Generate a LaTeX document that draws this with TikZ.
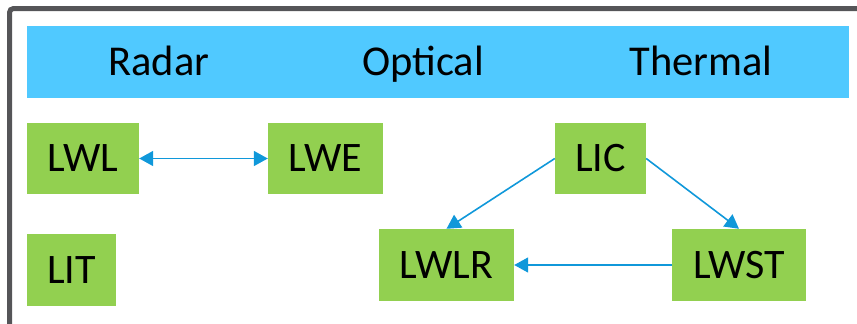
\documentclass[tikz,border=0pt]{standalone}
\usepackage{fontspec}
\setmainfont{Carlito}
\usetikzlibrary{arrows.meta}
\definecolor{framegray}{RGB}{85,85,88}
\definecolor{bandblue}{RGB}{80,201,255}
\definecolor{boxgreen}{RGB}{146,208,80}
\definecolor{linkblue}{RGB}{16,152,218}
\tikzset{
  pbox/.style={fill=boxgreen, draw=none, inner sep=0pt, font=\fontsize{42}{50}\selectfont},
  hdr/.style={anchor=base, inner sep=0pt, font=\fontsize{42.5}{51}\selectfont},
  link/.style={draw=linkblue, line width=1.6pt, -{Triangle[length=14pt,width=15pt]}},
  dlink/.style={draw=linkblue, line width=1.6pt, {Triangle[length=14pt,width=15pt]}-{Triangle[length=14pt,width=15pt]}}
}
\begin{document}
\begin{tikzpicture}[x=1pt,y=-1pt]
\useasboundingbox (0,0) rectangle (857,324);
% outer frame, cut off at right and bottom
\draw[framegray, line width=5pt, rounded corners=4pt] (9.5,340) -- (9.5,8.5) -- (880,8.5);
% header band
\fill[bandblue] (27,26) rectangle (849,98);
\node[hdr] (hradar) at (159,75) {Radar};
\node[hdr] (hopt) at (423,75) {Optical};
\node[hdr] (htherm) at (701,75) {Thermal};
% boxes
\node[pbox, minimum width=112pt, minimum height=71pt] (lwl) at (83,158.5) {LWL};
\node[pbox, minimum width=115pt, minimum height=71pt] (lwe) at (325.5,158.5) {LWE};
\node[pbox, minimum width=91pt, minimum height=71pt] (lic) at (600.5,158.5) {LIC};
\node[pbox, minimum width=89pt, minimum height=72pt] (lit) at (71.5,270) {LIT};
\node[pbox, minimum width=135pt, minimum height=72pt] (lwlr) at (446.5,265) {LWLR};
\node[pbox, minimum width=134pt, minimum height=72pt] (lwst) at (739,265) {LWST};
% connectors
\draw[dlink] (lwl.east) -- (lwe.west);
\draw[link] (lic.west) -- (lwlr.north);
\draw[link] (lic.east) -- (lwst.north);
\draw[link] (lwst.west) -- (lwlr.east);
\end{tikzpicture}
\end{document}
